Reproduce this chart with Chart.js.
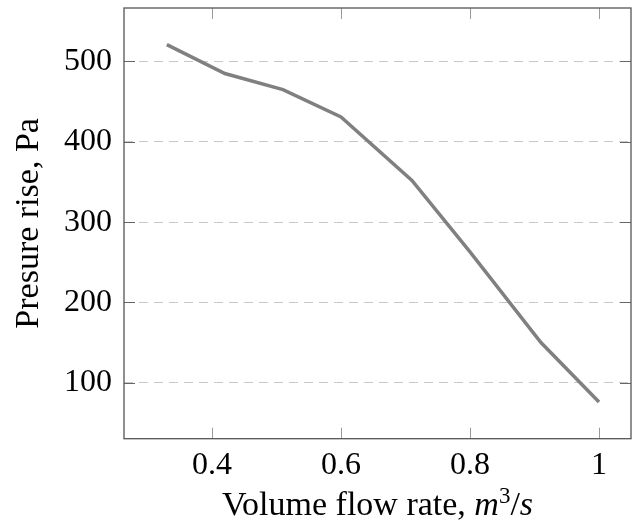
<!DOCTYPE html>
<html lang="en">
<head>
  <meta charset="UTF-8">
  <title>Fan curve</title>
  <script src="https://cdn.jsdelivr.net/npm/chart.js"></script>
  <style>
    html, body { margin: 0; padding: 0; background: #fff; }
    #wrap { width: 632px; height: 528px; }
  </style>
</head>
<body>
  <div id="wrap"><canvas id="fan-chart" width="632" height="528"></canvas></div>
  <script>
    // values
    const flowRates = [0.33, 0.42, 0.51, 0.60, 0.71, 0.80, 0.91, 1.00];
    const pressureRise = [521, 485, 465, 431, 352, 263, 150, 76];
    const xTicks = [0.4, 0.6, 0.8, 1];
    const yTicks = [100, 200, 300, 400, 500];

    const serif = '"Liberation Serif", "DejaVu Serif", serif';
    const fontSize = 32;
    const titleSize = 34;

    // frame + inward tick marks, like pgfplots
    const framePlugin = {
      id: 'frame',
      afterDraw(chart) {
        const { ctx, chartArea: a, scales } = chart;
        ctx.save();
        ctx.strokeStyle = '#9a9a9a';
        ctx.lineWidth = 1;
        ctx.beginPath();
        xTicks.forEach(v => {
          const x = Math.round(scales.x.getPixelForValue(v)) + 0.5;
          ctx.moveTo(x, a.bottom); ctx.lineTo(x, a.bottom - 11);
          ctx.moveTo(x, a.top); ctx.lineTo(x, a.top + 11);
        });
        ctx.stroke();
        ctx.strokeStyle = '#666';
        ctx.beginPath();
        yTicks.forEach(v => {
          const y = Math.round(scales.y.getPixelForValue(v)) + 0.5;
          ctx.moveTo(a.left, y); ctx.lineTo(a.left + 11, y);
          ctx.moveTo(a.right, y); ctx.lineTo(a.right - 11, y);
        });
        ctx.stroke();
        ctx.strokeStyle = '#555';
        ctx.lineWidth = 1.3;
        ctx.strokeRect(a.left, a.top, a.right - a.left, a.bottom - a.top);

        // x title with italic m^3/s
        const parts = [
          { t: 'Volume flow rate, ', f: `${titleSize}px ${serif}`, dy: 0 },
          { t: 'm', f: `italic ${titleSize}px ${serif}`, dy: 0 },
          { t: '3', f: `${Math.round(titleSize * 0.68)}px ${serif}`, dy: -12 },
          { t: '/', f: `${titleSize}px ${serif}`, dy: 0 },
          { t: 's', f: `italic ${titleSize}px ${serif}`, dy: 0 }
        ];
        let total = 0;
        parts.forEach(p => { ctx.font = p.f; p.w = ctx.measureText(p.t).width; total += p.w; });
        let x = (a.left + a.right) / 2 - total / 2;
        const base = 515;
        ctx.fillStyle = '#000';
        ctx.textBaseline = 'alphabetic';
        ctx.textAlign = 'left';
        parts.forEach(p => { ctx.font = p.f; ctx.fillText(p.t, x, base + p.dy); x += p.w; });
        ctx.restore();
      }
    };

    new Chart(document.getElementById('fan-chart'), {
      type: 'line',
      data: {
        datasets: [{
          data: flowRates.map((x, i) => ({ x, y: pressureRise[i] })),
          borderColor: '#808080',
          borderWidth: 3.5,
          pointRadius: 0,
          tension: 0,
          fill: false
        }]
      },
      options: {
        responsive: false,
        animation: false,
        layout: { padding: { top: 8, right: 1, left: 0, bottom: 0 } },
        plugins: { legend: { display: false }, tooltip: { enabled: false } },
        scales: {
          x: {
            type: 'linear',
            min: 0.2636,
            max: 1.0496,
            afterBuildTicks: s => { s.ticks = xTicks.map(v => ({ value: v })); },
            afterFit: s => { s.height = 89.3; s.paddingLeft = 0; s.paddingRight = 0; },
            grid: { display: false, drawTicks: false },
            border: { display: false },
            ticks: {
              padding: 8,
              color: '#000',
              font: { family: serif, size: fontSize },
              callback: v => String(v)
            }
          },
          y: {
            min: 30.3,
            max: 566.6,
            afterBuildTicks: s => { s.ticks = yTicks.map(v => ({ value: v })); },
            afterFit: s => { s.width = 124; s.paddingTop = 0; s.paddingBottom = 0; },
            grid: { color: '#c8c8c8', lineWidth: 1, drawTicks: false },
            border: { display: false, dash: [9, 6] },
            ticks: {
              padding: 12,
              color: '#000',
              font: { family: serif, size: fontSize }
            },
            title: {
              display: true,
              text: 'Presure rise, Pa',
              color: '#000',
              font: { family: serif, size: titleSize },
              padding: { top: 9, bottom: 0 }
            }
          }
        }
      },
      plugins: [framePlugin]
    });
  </script>
</body>
</html>
